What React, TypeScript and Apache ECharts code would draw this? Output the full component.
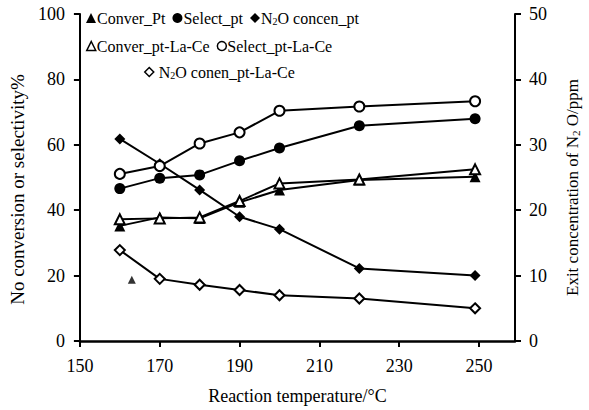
import React, { useEffect, useRef } from "react";
import * as echarts from "echarts";

const temps = [160, 170, 180, 190, 200, 220, 249];
const converPt = [35.2, 37.8, 37.5, 42.4, 46.2, 49.2, 50.2];
const selectPt = [46.6, 49.8, 50.8, 55.1, 59.0, 65.8, 68.0];
const n2oPt = [30.9, 27.1, 23.1, 19.0, 17.1, 11.1, 10.0];
const converLaCe = [37.2, 37.5, 37.8, 42.8, 48.2, 49.4, 52.5];
const selectLaCe = [51.1, 53.5, 60.4, 63.8, 70.4, 71.7, 73.3];
const n2oLaCe = [13.9, 9.5, 8.6, 7.8, 7.0, 6.5, 5.0];
const strayPoint = [[163, 18.7]];

const names = {
  converPt: "Conver_Pt",
  selectPt: "Select_pt",
  n2oPt: "N2O concen_pt",
  converLaCe: "Conver_pt-La-Ce",
  selectLaCe: "Select_pt-La-Ce",
  n2oLaCe: "N2O conen_pt-La-Ce",
};

const FONT = "'Liberation Serif', 'Times New Roman', serif";

function pairs(vals: number[]) {
  return temps.map((t, i) => [t, vals[i]]);
}

export default function App() {
  const ref = useRef<HTMLDivElement>(null);
  useEffect(() => {
    if (!ref.current) return;
    const chart = echarts.init(ref.current, null, { renderer: "svg" });
    const line = (
      name: string,
      vals: number[],
      symbol: string,
      size: number,
      yAxisIndex: number,
      empty: boolean
    ) => ({
      name,
      type: "line",
      data: pairs(vals),
      yAxisIndex,
      symbol,
      symbolSize: size,
      showAllSymbol: true,
      lineStyle: { color: "#000", width: 2, type: "solid" },
      itemStyle: empty
        ? { color: "#fff", borderColor: "#000", borderWidth: 2 }
        : { color: "#000", borderColor: "#000", borderWidth: 0 },
      z: 3,
    });
    const filled = { color: "#000", borderColor: "#000", borderWidth: 0 };
    const open = { color: "#fff", borderColor: "#000", borderWidth: 1.5 };
    const rich = {
      sub: { fontFamily: FONT, fontSize: 10, color: "#000", padding: [7, 0, 0, 0] },
      t: { fontFamily: FONT, fontSize: 16, color: "#000" },
      r: { fontFamily: FONT, fontSize: 17, color: "#000" },
      rs: { fontFamily: FONT, fontSize: 11, color: "#000", padding: [7, 0, 0, 0] },
    };
    const legendBase = {
      itemWidth: 10,
      itemHeight: 10,
      itemGap: 7,
      formatter: (n: string) =>
        n.startsWith("N2O") ? "{t|N}{sub|2}{t|O" + n.slice(3) + "}" : "{t|" + n + "}",
      textStyle: { fontFamily: FONT, fontSize: 16, color: "#000", padding: [0, 0, 0, -4], rich },
    };
    chart.setOption({
      animation: false,
      backgroundColor: "#fff",
      textStyle: { fontFamily: FONT },
      grid: { left: 76, right: 67, top: 14, bottom: 69 },
      legend: [
        {
          ...legendBase,
          left: 81,
          top: 5,
          data: [
            { name: names.converPt, icon: "triangle", itemStyle: filled },
            { name: names.selectPt, icon: "circle", itemStyle: filled },
            { name: names.n2oPt, icon: "diamond", itemStyle: filled },
          ],
        },
        {
          ...legendBase,
          left: 81,
          top: 33,
          itemWidth: 9,
          itemHeight: 9,
          data: [
            { name: names.converLaCe, icon: "triangle", itemStyle: open },
            { name: names.selectLaCe, icon: "circle", itemStyle: open },
          ],
        },
        {
          ...legendBase,
          left: 139,
          top: 59,
          itemWidth: 9,
          itemHeight: 9,
          itemGap: 7,
          textStyle: { ...legendBase.textStyle, padding: [0, 0, 0, 0] },
          data: [{ name: names.n2oLaCe, icon: "diamond", itemStyle: open }],
        },
      ],
      xAxis: {
        type: "value",
        min: 150,
        max: 259,
        interval: 20,
        name: "Reaction temperature/\u00b0C",
        nameLocation: "middle",
        nameGap: 46,
        nameTextStyle: { fontFamily: FONT, fontSize: 18, color: "#000" },
        axisLine: { lineStyle: { color: "#000", width: 2.5 } },
        axisTick: { show: true, length: 6, inside: false, lineStyle: { color: "#000", width: 2 } },
        axisLabel: { fontFamily: FONT, fontSize: 18, color: "#000", margin: 16, showMaxLabel: false },
        splitLine: { show: false },
      },
      yAxis: [
        {
          type: "value",
          min: 0,
          max: 100,
          interval: 20,
          name: "No conversion or selectivity%",
          nameLocation: "middle",
          nameRotate: 90,
          nameGap: 47,
          nameTextStyle: { fontFamily: FONT, fontSize: 19, color: "#000", padding: [0, 24, 0, 0] },
          axisLine: { show: true, lineStyle: { color: "#000", width: 2 } },
          axisTick: { show: true, length: 6, lineStyle: { color: "#000", width: 2 } },
          axisLabel: { fontFamily: FONT, fontSize: 18, color: "#000", margin: 15 },
          splitLine: { show: false },
        },
        {
          type: "value",
          min: 0,
          max: 50,
          interval: 10,
          position: "right",
          name: "{r|Exit concentration of N}{rs|2}{r| O/ppm}",
          nameLocation: "middle",
          nameRotate: 90,
          nameGap: 48,
          nameTextStyle: { fontFamily: FONT, fontSize: 17, color: "#000", padding: [0, 20, 0, 0], rich },
          axisLine: { show: true, lineStyle: { color: "#000", width: 2 } },
          axisTick: { show: true, length: 6, lineStyle: { color: "#000", width: 2 } },
          axisLabel: { fontFamily: FONT, fontSize: 18, color: "#000", margin: 14 },
          splitLine: { show: false },
        },
      ],
      series: [
        line(names.converPt, converPt, "triangle", 11, 0, false),
        line(names.selectPt, selectPt, "circle", 11, 0, false),
        line(names.n2oPt, n2oPt, "diamond", 11, 1, false),
        line(names.converLaCe, converLaCe, "triangle", 10, 0, true),
        line(names.selectLaCe, selectLaCe, "circle", 10, 0, true),
        line(names.n2oLaCe, n2oLaCe, "diamond", 10, 1, true),
        {
          name: "stray",
          type: "scatter",
          data: strayPoint,
          symbol: "triangle",
          symbolSize: 8,
          itemStyle: { color: "#000" },
          yAxisIndex: 0,
        },
      ],
    });
    return () => chart.dispose();
  }, []);
  return <div ref={ref} style={{ width: 589, height: 410, position: "absolute", left: 0, top: 0 }} />;
}
